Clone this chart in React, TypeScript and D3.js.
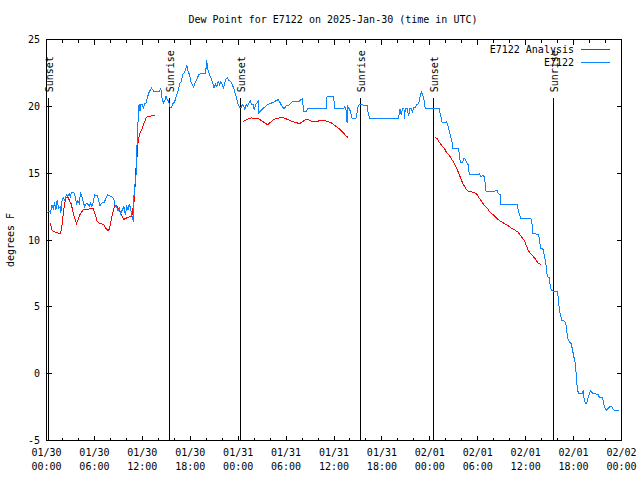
import React from "react";
import * as d3 from "d3";

// Observed dew point (E7122), hours since 01/30 00:00 UTC and °F
const obsHours = [0,0.38,0.5,0.66,0.84,1.0,1.17,1.34,1.51,1.72,1.8,1.92,2.1,2.26,2.51,2.67,2.85,3.01,3.1,3.43,3.6,3.76,3.93,4.1,4.27,4.43,4.6,4.77,4.93,5.11,5.36,5.52,5.68,5.86,6.02,6.36,6.52,6.69,6.86,7.19,7.37,7.62,7.94,8.28,8.44,8.62,8.78,8.95,9.12,9.28,9.45,9.7,9.87,10.04,10.2,10.38,10.54,10.7,10.88,10.95,11.04,11.17,11.25,11.38,11.46,11.54,11.63,11.71,11.79,11.96,12.13,12.3,12.46,12.63,12.8,12.96,13.14,13.3,13.46,13.8,14.14,14.3,14.47,14.64,14.81,14.97,15.14,15.31,15.47,15.65,15.81,16.06,16.22,16.4,16.56,16.73,16.9,17.06,17.23,17.4,17.57,17.73,17.9,18.07,18.23,18.41,18.57,18.73,18.91,19.07,19.23,19.91,20.07,20.16,20.33,20.49,20.67,20.83,20.99,21.17,21.33,21.49,21.67,21.83,22.0,22.17,22.33,22.5,22.67,22.84,23.0,23.17,23.34,23.5,23.68,23.84,24.0,24.18,24.34,24.5,24.68,24.84,25.01,25.18,25.35,25.51,25.68,25.85,26.01,26.19,26.35,26.51,26.6,26.76,26.94,27.19,27.44,27.69,27.94,28.19,28.52,28.77,29.02,29.2,29.36,29.52,29.7,29.86,30.03,30.28,30.53,30.78,31.28,31.62,31.87,32.03,32.21,32.53,32.71,35.04,35.13,35.97,36.05,37.23,37.3,37.48,37.55,37.64,37.73,37.89,38.06,38.23,38.65,38.81,38.98,39.15,40.15,40.31,40.49,44.08,44.25,44.42,44.58,44.76,44.83,44.92,45.17,45.33,45.51,45.67,45.83,46.01,46.17,46.34,46.59,46.84,46.93,47.09,47.26,47.43,49.18,49.27,49.44,49.52,49.77,50.1,50.28,50.44,50.6,50.78,50.86,51.61,51.69,51.78,51.86,52.11,52.28,52.45,52.61,52.79,52.95,54.04,54.2,54.37,54.62,54.79,54.96,55.04,55.46,56.46,56.55,56.8,56.88,58.97,59.06,59.22,59.39,60.64,60.82,60.89,61.48,61.64,61.73,61.9,62.2,62.36,62.52,62.61,62.7,62.95,63.02,63.11,63.2,63.95,64.12,64.21,64.37,64.53,64.78,65.03,65.12,65.28,65.46,65.71,65.87,66.04,66.21,66.29,66.37,66.46,66.63,67.04,67.22,67.29,67.47,67.63,67.79,67.97,68.13,68.38,69.05,69.22,69.64,69.72,69.89,70.14,70.3,70.55,70.8,70.98,71.14,71.73];
const obsValues = [12.05,12.13,12.03,12.63,12.33,12.8,12.25,13.0,12.4,12.5,12.03,12.87,13.15,13.0,13.38,13.25,13.45,13.15,13.55,13.55,13.2,12.7,12.95,12.75,13.55,13.25,12.87,12.5,12.7,12.7,12.55,12.75,12.5,12.87,13.38,13.3,13.0,12.55,12.75,12.8,13.0,13.38,13.3,13.2,13.0,12.55,12.5,12.2,12.38,12.0,12.2,12.5,11.88,12.5,12.25,12.7,12.3,11.8,11.37,13.25,14.0,14.5,15.25,18.12,18.87,20.0,20.13,19.62,20.13,20.18,19.88,20.18,20.25,20.63,21.0,21.18,21.38,21.23,21.08,21.08,21.08,21.38,20.63,20.25,20.37,20.75,20.5,20.37,19.92,19.88,20.18,20.37,20.67,21.0,21.38,21.75,21.87,22.38,22.5,22.75,23.07,22.62,22.38,21.87,21.63,21.42,21.68,21.93,22.13,22.38,22.43,22.43,23.43,22.88,22.5,22.25,22.0,21.68,21.38,21.68,21.5,21.87,21.63,21.83,21.63,21.38,21.75,22.08,22.13,21.93,21.87,21.75,21.5,21.25,20.87,20.5,20.13,19.92,19.88,20.13,20.0,19.75,20.13,20.0,20.25,20.43,20.13,20.18,19.75,20.13,20.25,20.37,19.5,19.62,19.75,19.88,20.0,20.13,20.18,20.25,20.33,20.43,20.5,20.33,20.13,20.0,19.83,19.92,20.05,20.07,20.18,20.33,20.37,20.37,20.5,20.58,19.62,19.58,19.83,19.83,20.75,20.75,19.83,19.83,20.0,19.88,19.38,18.75,20.0,19.83,19.62,19.13,19.08,19.17,19.92,20.13,20.07,19.38,19.08,19.08,19.83,19.38,19.83,19.83,19.08,19.83,19.83,19.25,19.83,19.83,19.58,19.92,19.92,20.13,20.18,20.93,21.08,20.88,20.5,19.83,19.83,19.5,19.13,18.83,18.75,18.83,18.5,18.12,17.75,17.33,16.88,16.83,16.38,16.0,15.83,15.83,16.13,16.0,15.83,15.63,14.88,14.88,14.93,14.75,14.83,14.75,14.13,13.63,13.63,13.68,13.5,13.38,12.63,12.63,12.25,11.88,11.63,11.63,11.13,10.5,10.43,10.38,9.93,9.38,9.3,8.75,8.25,7.88,7.25,7.2,6.75,6.63,6.2,6.15,5.55,4.75,4.38,4.0,3.95,3.8,3.25,2.63,2.37,2.25,1.75,1.25,0.75,0.25,-0.37,-1.12,-1.5,-1.5,-1.3,-1.75,-2.2,-2.2,-1.87,-1.5,-1.3,-1.45,-1.55,-1.75,-1.75,-2.13,-2.5,-2.75,-2.62,-2.45,-2.5,-2.7,-2.75,-2.75];

// Analysis dew point (E7122 Analysis); null marks a gap
const anaHours = [0.5,0.66,0.92,1.25,1.51,1.76,1.92,2.1,2.26,2.42,2.6,2.76,2.92,3.1,3.26,3.43,3.6,3.76,3.93,4.1,4.35,4.6,4.93,5.27,5.61,5.86,6.02,6.19,6.36,6.61,6.94,7.19,7.44,7.69,7.87,8.03,8.19,8.37,8.53,8.7,8.87,9.03,9.28,9.54,9.7,9.95,10.2,10.45,10.7,10.79,10.95,11.04,11.13,11.25,11.38,11.46,11.63,11.79,11.96,12.13,12.3,12.46,12.63,12.96,13.3,13.64,
  19.0,
  24.59,24.84,25.09,25.35,25.68,26.1,26.51,26.94,27.36,27.69,27.94,28.27,28.7,29.11,29.52,29.95,30.36,30.78,31.2,31.71,32.12,32.46,32.87,33.29,33.79,34.29,34.79,35.22,35.63,35.97,36.3,36.64,36.98,37.3,37.55,37.8,
  43.0,
  48.68,48.93,49.1,49.35,49.6,49.85,50.03,50.28,50.53,50.69,50.94,51.19,51.44,51.61,51.86,52.11,52.36,52.53,52.7,53.04,53.36,53.7,53.95,54.12,54.37,54.62,54.87,55.21,55.46,55.71,56.05,56.3,56.63,56.96,57.3,57.63,57.97,58.22,58.56,58.81,59.06,59.31,59.56,59.81,59.97,60.14,60.31,60.57,60.82,61.07,61.32,61.57,61.9];
const anaValues = [11.3,10.75,10.63,10.55,10.5,10.45,11.0,12.0,12.63,13.13,13.25,13.13,12.87,12.7,12.25,11.8,11.5,11.25,11.5,11.8,12.05,12.25,12.25,12.3,12.38,12.38,12.0,11.75,11.37,11.25,11.2,11.13,10.88,10.7,10.8,11.25,11.75,12.2,12.55,12.63,12.5,12.25,12.0,11.7,11.55,11.63,11.7,11.75,11.8,12.25,12.75,13.75,14.25,16.0,16.38,17.25,17.88,18.08,18.33,18.63,18.87,19.13,19.23,19.25,19.3,19.32,
  null,
  18.87,18.93,19.02,19.08,19.13,19.08,19.08,18.93,18.75,18.63,18.75,18.93,19.08,19.13,19.17,19.08,18.98,18.87,18.78,18.72,18.87,19.02,18.98,18.87,18.87,18.93,18.93,18.87,18.78,18.63,18.48,18.33,18.12,17.93,17.75,17.67,
  null,
  17.67,17.58,17.37,17.18,17.0,16.83,16.62,16.43,16.25,16.08,15.87,15.57,15.25,15.0,14.63,14.25,14.0,13.83,13.68,13.63,13.58,13.5,13.38,13.17,13.0,12.75,12.57,12.38,12.12,12.0,11.82,11.67,11.5,11.37,11.25,11.13,11.0,10.88,10.8,10.68,10.58,10.38,10.17,10.0,9.75,9.5,9.25,9.0,8.88,8.67,8.5,8.25,8.18];

// Sunrise / sunset events (hours since 01/30 00:00 UTC)
const sunLabels = ["Sunset", "Sunrise", "Sunset", "Sunrise", "Sunset", "Sunrise"];
const sunHours = [0.16, 15.31, 24.25, 39.31, 48.35, 63.4];

const xTickHours = [0, 6, 12, 18, 24, 30, 36, 42, 48, 54, 60, 66, 72];
const xTickDates = ["01/30", "01/30", "01/30", "01/30", "01/31", "01/31", "01/31", "01/31", "02/01", "02/01", "02/01", "02/01", "02/02"];
const xTickTimes = ["00:00", "06:00", "12:00", "18:00", "00:00", "06:00", "12:00", "18:00", "00:00", "06:00", "12:00", "18:00", "00:00"];
const yTicks = [-5, 0, 5, 10, 15, 20, 25];

const seriesNames = ["E7122 Analysis", "E7122"];
const seriesColors = ["#ff0000", "#0a84ff"];

const FONT = "'DejaVu Sans Mono', 'Liberation Mono', monospace";

export default function App() {
  const W = 640, H = 480;
  const x = d3.scaleLinear().domain([0, 72]).range([46.5, 621.5]);
  const y = d3.scaleLinear().domain([-5, 25]).range([440.5, 39.5]);
  const [x0, x1] = x.range();
  const [yb, yt] = y.range();

  type P = { h: number; v: number | null };
  const obs: P[] = obsHours.map((h, i) => ({ h, v: obsValues[i] }));
  const ana: P[] = anaHours.map((h, i) => ({ h, v: anaValues[i] }));
  const line = d3
    .line<P>()
    .defined((d) => d.v !== null)
    .x((d) => x(d.h))
    .y((d) => y(d.v as number));

  const minorHours = d3.range(0, 73, 2).filter((h) => h % 6 !== 0);
  const MAJ = 5, MIN = 3;
  const sunTopY = y(20.6);

  return (
    <svg
      width={W}
      height={H}
      style={{ position: "absolute", left: 0, top: 0, background: "#fff" }}
      fontFamily={FONT}
      fontSize={10}
    >
      <rect x={0} y={0} width={W} height={H} fill="#fff" />
      {/* title */}
      <text x={333} y={23} textAnchor="middle" fill="#000">
        Dew Point for E7122 on 2025-Jan-30 (time in UTC)
      </text>
      {/* y label */}
      <text transform={`translate(14,${(yb + yt) / 2}) rotate(-90)`} textAnchor="middle" fill="#000">
        degrees F
      </text>

      {/* ticks */}
      <g stroke="#000" strokeWidth={1} shapeRendering="crispEdges">
        {yTicks.map((t) => (
          <g key={"y" + t}>
            <line x1={x0} x2={x0 + MAJ} y1={y(t)} y2={y(t)} />
            <line x1={x1} x2={x1 - MAJ} y1={y(t)} y2={y(t)} />
          </g>
        ))}
        {xTickHours.map((h) => (
          <g key={"x" + h}>
            <line x1={x(h)} x2={x(h)} y1={yb} y2={yb - MAJ} />
            <line x1={x(h)} x2={x(h)} y1={yt} y2={yt + MAJ} />
          </g>
        ))}
        {minorHours.map((h) => (
          <g key={"m" + h}>
            <line x1={x(h)} x2={x(h)} y1={yb} y2={yb - MIN} />
            <line x1={x(h)} x2={x(h)} y1={yt} y2={yt + MIN} />
          </g>
        ))}
      </g>

      {/* tick labels */}
      {yTicks.map((t) => (
        <text key={"yl" + t} x={40} y={y(t) + 3.5} textAnchor="end" fill="#000">
          {t}
        </text>
      ))}
      {xTickHours.map((h, i) => (
        <g key={"xl" + h}>
          <text x={x(h)} y={456} textAnchor="middle" fill="#000">
            {xTickDates[i]}
          </text>
          <text x={x(h)} y={470} textAnchor="middle" fill="#000">
            {xTickTimes[i]}
          </text>
        </g>
      ))}

      {/* sunrise / sunset markers */}
      {sunHours.map((h, i) => (
        <g key={"s" + i}>
          <line
            x1={Math.round(x(h)) + 0.5}
            x2={Math.round(x(h)) + 0.5}
            y1={yb}
            y2={sunTopY}
            stroke="#000"
            strokeWidth={1}
            shapeRendering="crispEdges"
          />
          <text
            transform={`translate(${Math.round(x(h)) + 5},${sunTopY - 6}) rotate(-90)`}
            fill="#000"
          >
            {sunLabels[i]}
          </text>
        </g>
      ))}

      {/* series */}
      <path d={line(ana) || ""} fill="none" stroke={seriesColors[0]} strokeWidth={1} shapeRendering="crispEdges" />
      <path d={line(obs) || ""} fill="none" stroke={seriesColors[1]} strokeWidth={1} shapeRendering="crispEdges" />

      {/* legend */}
      {seriesNames.map((n, i) => (
        <g key={"lg" + i}>
          <text x={574} y={53 + i * 12.5} textAnchor="end" fill="#000">
            {n}
          </text>
          <line
            x1={581}
            x2={610}
            y1={49.5 + i * 12.5}
            y2={49.5 + i * 12.5}
            stroke={seriesColors[i]}
            strokeWidth={1}
            shapeRendering="crispEdges"
          />
        </g>
      ))}

      {/* border */}
      <rect
        x={x0}
        y={yt}
        width={x1 - x0}
        height={yb - yt}
        fill="none"
        stroke="#000"
        strokeWidth={1}
        shapeRendering="crispEdges"
      />
    </svg>
  );
}
